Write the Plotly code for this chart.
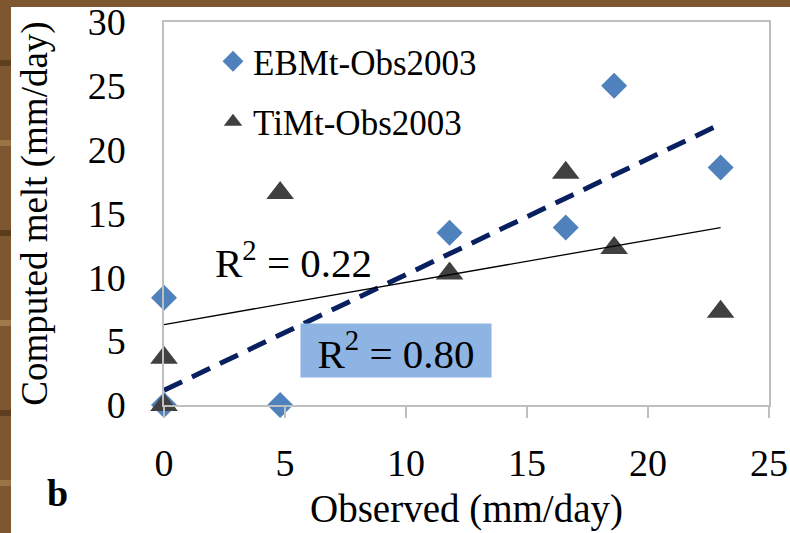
import plotly.graph_objects as go

# ---- data ----
observed = [0.0, 0.0, 4.8, 11.8, 16.6, 18.6, 23.0]
ebmt_computed = [0.0, 8.4, 0.0, 13.5, 13.9, 25.0, 18.6]
timt_computed = [0.0, 3.7, 16.6, 10.3, 18.2, 12.3, 7.3]

ebmt_trend_x = [0.0, 23.0]
ebmt_trend_y = [1.15, 22.0]
timt_trend_x = [0.0, 23.0]
timt_trend_y = [6.3, 13.9]

x_ticks = [0, 5, 10, 15, 20, 25]
y_ticks = [0, 5, 10, 15, 20, 25, 30]

r2_ebmt = "R<sup>2</sup> = 0.80"
r2_timt = "R<sup>2</sup> = 0.22"

FONT = "Liberation Serif, Times New Roman, Times, DejaVu Serif, serif"

# ---- layout geometry (pixels) ----
W, H = 790, 533
ML, MR, MT, MB = 164, 21, 22, 128
PW, PH = W - ML - MR, H - MT - MB


def px_x(p):
    return (p - ML) / PW


def px_y(p):
    return (H - MB - p) / PH


fig = go.Figure()

fig.add_trace(go.Scatter(
    x=observed, y=ebmt_computed, mode="markers", name="EBMt-Obs2003",
    legendgroup="a",
    marker=dict(symbol="diamond", size=20, color="#4F81BD"),
    cliponaxis=False,
))
fig.add_trace(go.Scatter(
    x=observed, y=timt_computed, mode="markers", name="TiMt-Obs2003",
    legendgroup="b",
    marker=dict(symbol="triangle-up", size=24, color="#404040"),
    cliponaxis=False,
))
fig.add_trace(go.Scatter(
    x=ebmt_trend_x, y=ebmt_trend_y, mode="lines", showlegend=False,
    line=dict(color="#082060", width=5, dash="20px,11px"),
    hoverinfo="skip",
))
fig.add_trace(go.Scatter(
    x=timt_trend_x, y=timt_trend_y, mode="lines", showlegend=False,
    line=dict(color="black", width=1.3),
    hoverinfo="skip",
))

axis_common = dict(
    showgrid=False, zeroline=False, showline=True, linecolor="#BFBFBF",
    linewidth=1.5, mirror=True,
    tickfont=dict(family=FONT, size=38, color="black"),
)

fig.update_layout(
    width=W, height=H,
    margin=dict(l=ML, r=MR, t=MT, b=MB, autoexpand=False),
    paper_bgcolor="white", plot_bgcolor="white",
    font=dict(family=FONT, color="black"),
    xaxis=dict(
        range=[0, 25], tickvals=x_ticks, ticks="outside", ticklen=11,
        tickcolor="#BFBFBF", tickwidth=1.5, ticklabelstandoff=13,
        title=dict(text="Observed (mm/day)", font=dict(family=FONT, size=39),
                   standoff=11),
        **axis_common,
    ),
    yaxis=dict(
        range=[0, 30], tickvals=y_ticks, ticks="", ticklabelstandoff=29,
        title=dict(text="Computed melt (mm/day)", font=dict(family=FONT, size=37),
                   standoff=29),
        **axis_common,
    ),
    legend=dict(
        x=px_x(213), y=px_y(32), xanchor="left", yanchor="top",
        font=dict(family=FONT, size=35, color="black"),
        bgcolor="rgba(0,0,0,0)", tracegroupgap=12,
    ),
    showlegend=True,
)

# R² labels
fig.add_annotation(
    x=(293 - ML) / PW * 25, y=(H - MB - 260) / PH * 30, xref="x", yref="y",
    text=r2_timt, showarrow=False, font=dict(family=FONT, size=41, color="black"),
)
fig.add_annotation(
    x=(396 - ML) / PW * 25, y=(H - MB - 350) / PH * 30, xref="x", yref="y",
    text=r2_ebmt, showarrow=False, font=dict(family=FONT, size=41, color="black"),
    bgcolor="#8DB4E2", width=188, height=51, borderpad=1,
)

# panel letter
fig.add_annotation(
    x=px_x(57), y=px_y(493), xref="paper", yref="paper", text="<b>b</b>",
    showarrow=False, font=dict(family=FONT, size=38, color="black"),
    xanchor="center", yanchor="middle",
)

# wooden frame strips (left and top)
fig.add_shape(type="rect", xref="paper", yref="paper", layer="below",
              x0=px_x(0), x1=px_x(11), y0=px_y(H), y1=px_y(0),
              fillcolor="#7E5731", line_width=0)
fig.add_shape(type="rect", xref="paper", yref="paper", layer="below",
              x0=px_x(0), x1=px_x(W), y0=px_y(7), y1=px_y(0),
              fillcolor="#7E5731", line_width=0)
for yy, col in [(60, "#5E3E1F"), (140, "#9A7445"), (230, "#5A3B1C"),
                (320, "#A07A4A"), (410, "#5E3E1F"), (480, "#9A7445")]:
    fig.add_shape(type="rect", xref="paper", yref="paper", layer="below",
                  x0=px_x(0), x1=px_x(11), y0=px_y(yy + 6), y1=px_y(yy),
                  fillcolor=col, line_width=0)

fig.write_html("out.html", config={"displayModeBar": False},
               post_script="document.body.style.margin='0px';")
